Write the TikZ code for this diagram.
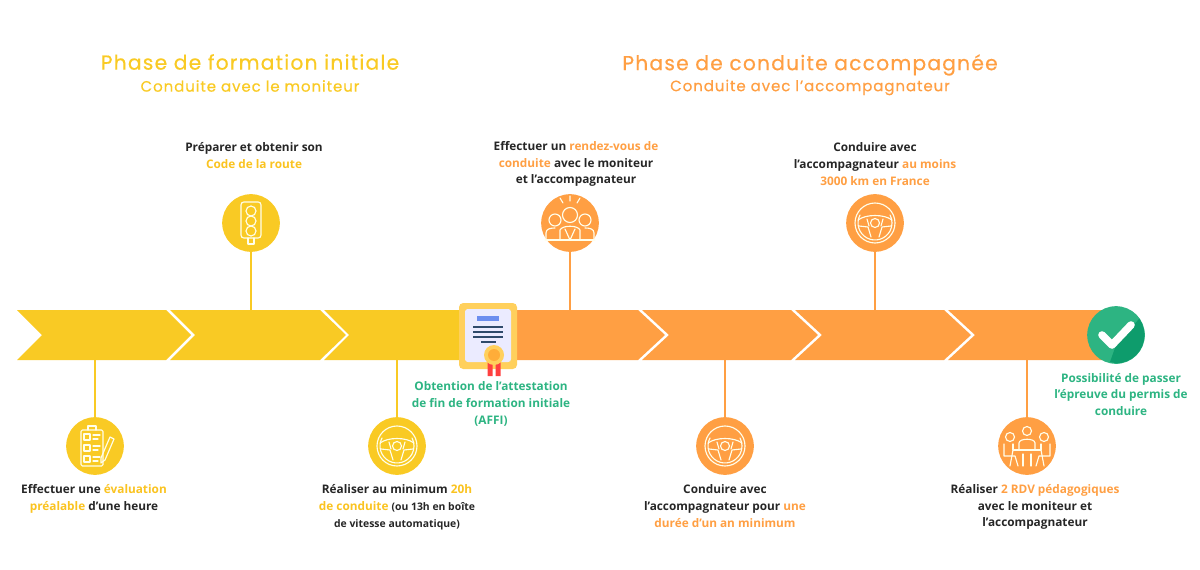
\documentclass[tikz,border=0pt]{standalone}
\usepackage{fontspec}
\setmainfont{Open Sans}
\newfontfamily\headfont[LetterSpace=6,FakeBold=0.5]{Poppins}
\usetikzlibrary{positioning,calc}

\definecolor{phaseyellow}{HTML}{F9CA24}
\definecolor{phaseorange}{HTML}{FF9F43}
\definecolor{okgreen}{HTML}{2DB482}
\definecolor{okdark}{HTML}{0E9C6C}
\definecolor{txtdark}{HTML}{262626}
\definecolor{certframe}{HTML}{FFD05C}
\definecolor{certline}{HTML}{2F4A6B}
\definecolor{certbar}{HTML}{6C8EEF}
\newcommand{\yel}[1]{\textcolor{phaseyellow!90!orange}{#1}}
\newcommand{\ora}[1]{\textcolor{phaseorange}{#1}}

\tikzset{
  icon/.style={draw=white!92!yellow, line width=0.8pt, line join=round, line cap=round},
  wheelicon/.pic={
    \draw[icon] (0,0) circle (20);
    \draw[icon] (-15,-8) arc (208:-28:17);
    \draw[icon] (0,0) circle (4.5);
    \draw[icon] (-17,-3) .. controls (-9,-9) and (9,-9) .. (17,-3);
    \draw[icon] (-16,3) -- (-7,4) -- (-4,14);
    \draw[icon] (16,3) -- (7,4) -- (4,14);
    \draw[icon] (-8,-4) -- (-6,3) (8,-4) -- (6,3);
  },
  lighticon/.pic={
    \draw[icon, rounded corners=2] (-10,-21) rectangle (10,15);
    \foreach \ly in {-12,-2,8} {
      \draw[icon] (0,\ly) circle (5);
    }
    \draw[icon] (-3,15) -- (-3,21) -- (3,21) -- (3,15);
  },
  listicon/.pic={
    \draw[icon, rounded corners=1] (-14,-16) rectangle (8,20);
    \draw[icon] (-7,-16) -- (-7,-20) -- (1,-20) -- (1,-16);
    \foreach \ly in {-9,2,13} {
      \draw[icon] (-11,\ly-3) rectangle (-5,\ly+3);
      \draw[icon] (-2,\ly-2) -- (5,\ly-2) (-2,\ly+2) -- (3,\ly+2);
    }
    \draw[icon] (6,12) -- (15,-9) -- (19,-7) -- (10,14) -- (6,17) -- cycle;
  },
  crowdicon/.pic={
    \draw[icon] (0,-27) -- (0,-22) (-10,-25) -- (-7,-20) (10,-25) -- (7,-20);
    \draw[icon] (0,-8) circle (7.5);
    \draw[icon] (-15,-3) circle (6) (15,-3) circle (6);
    \draw[icon] (-24,17) -- (-24,10) .. controls (-24,6) and (-20,5) .. (-15,5)
      (24,17) -- (24,10) .. controls (24,6) and (20,5) .. (15,5);
    \draw[icon] (-10,17) -- (-10,7) .. controls (-8,2) and (8,2) .. (10,7) -- (10,17);
    \draw[icon] (-25,17) -- (25,17);
    \draw[icon] (0,17) -- (-5,6) (0,17) -- (5,6);
  },
  tableicon/.pic={
    \draw[icon] (0,-15) circle (4.5) (-17,-9) circle (4.5) (17,-9) circle (4.5);
    \draw[icon] (-8,4) -- (-8,-3) .. controls (-8,-8) and (8,-8) .. (8,-3) -- (8,4);
    \draw[icon] (-23,-2) -- (-23,10) -- (-12,10) -- (-9,20);
    \draw[icon] (23,-2) -- (23,10) -- (12,10) -- (9,20);
    \draw[icon] (-14,-2) -- (-14,4) -- (14,4) -- (14,-2);
    \draw[icon] (-14,4) -- (-17,20) (14,4) -- (17,20);
    \draw[icon] (-4,8) -- (-4,20) (4,8) -- (4,20);
  },
  stepdot/.style={circle, minimum size=41pt, inner sep=0pt},
  yeldot/.style={stepdot, fill=phaseyellow},
  oradot/.style={stepdot, fill=phaseorange},
  yelstem/.style={draw=phaseyellow, line width=1.4pt},
  orastem/.style={draw=phaseorange, line width=1.4pt},
  caption/.style={align=center, font=\bfseries\fontsize{8.4}{12}\selectfont, text=txtdark, inner sep=0pt},
  greencaption/.style={caption, text=okgreen},
  headline/.style={font=\headfont\fontsize{14.4}{16}\selectfont, inner sep=0pt},
  subline/.style={font=\headfont\fontsize{10.7}{12}\selectfont, inner sep=0pt},
}

\begin{document}
\begin{tikzpicture}[x=0.025cm, y=-0.025cm]
  \useasboundingbox (0,0) rectangle (1200,570);

  \coordinate (bandN) at (0,310);
  \coordinate (bandS) at (0,360);

  % titles
  \node[headline, text=phaseyellow] (phaseA) at (250,62) {Phase de formation initiale};
  \node[subline, text=phaseyellow] (subA) at (250,86) {Conduite avec le moniteur};
  \node[headline, text=phaseorange] (phaseB) at (810,65) {Phase de conduite accompagnée};
  \node[subline, text=phaseorange] (subB) at (810,87.5) {Conduite avec l’accompagnateur};

  % band
  \fill[phaseyellow] (17,310) -- (166,310) -- (191,335) -- (166,360) -- (17,360) -- (42,335) -- cycle;
  \fill[phaseyellow] (170,310) -- (320,310) -- (346,335) -- (320,360) -- (170,360) -- (195,335) -- cycle;
  \fill[phaseyellow] (324,310) -- (490,310) -- (490,360) -- (324,360) -- (349,335) -- cycle;
  \fill[phaseorange] (490,310) -- (638,310) -- (665,335) -- (638,360) -- (490,360) -- cycle;
  \fill[phaseorange] (642,310) -- (791,310) -- (818,335) -- (791,360) -- (642,360) -- (669,335) -- cycle;
  \fill[phaseorange] (795,310) -- (944,310) -- (971,335) -- (944,360) -- (795,360) -- (822,335) -- cycle;
  \fill[phaseorange] (948,310) -- (1110,310) -- (1110,360) -- (948,360) -- (975,335) -- cycle;

  % steps
  \node[yeldot] (evalDot) at (95,446) {};
  \node[yeldot] (codeDot) at (251,223) {};
  \node[yeldot] (hoursDot) at (397,446) {};
  \node[oradot] (rdvDot) at (570,223) {};
  \node[oradot] (yearDot) at (725,446) {};
  \node[oradot] (kmDot) at (875,223) {};
  \node[oradot] (teamDot) at (1027,446) {};

  \draw[yelstem] (evalDot) -- (evalDot |- bandS);
  \draw[yelstem] (codeDot) -- (codeDot |- bandN);
  \draw[yelstem] (hoursDot) -- (hoursDot |- bandS);
  \draw[orastem] (rdvDot) -- (rdvDot |- bandN);
  \draw[orastem] (yearDot) -- (yearDot |- bandS);
  \draw[orastem] (kmDot) -- (kmDot |- bandN);
  \draw[orastem] (teamDot) -- (teamDot |- bandS);

  \pic at (evalDot) {listicon};
  \pic at (codeDot) {lighticon};
  \pic at (hoursDot) {wheelicon};
  \pic at (rdvDot) {crowdicon};
  \pic at (yearDot) {wheelicon};
  \pic at (kmDot) {wheelicon};
  \pic at (teamDot) {tableicon};

  % certificate
  \fill[certframe, rounded corners=3] (459,303) rectangle (517,369);
  \fill[white!92!blue, rounded corners=2] (465,309) rectangle (511,362);
  \fill[certbar] (477,316) rectangle (499,321);
  \foreach \ly in {326,331,336} \fill[certline] (473,\ly) rectangle (503,\ly+2);
  \fill[certline] (481,341) rectangle (496,343);
  \fill[red!75!white] (487.5,360) rectangle (492.5,376) (495.5,360) rectangle (500.5,376);
  \fill[certframe] (494,355) circle (10);
  \fill[phaseorange!85!yellow] (494,355) circle (6);

  % final check
  \node[circle, fill=okgreen, minimum size=41pt, inner sep=0pt] (okDot) at (1116,335) {};
  \begin{scope}
    \clip (1116,335) circle (28.4);
    \fill[okdark] (1146,311) -- (1116,345) -- (1110,362) -- (1150,370) -- cycle;
  \end{scope}
  \draw[white, line width=5.4pt, line join=round, line cap=round] (1102,335) -- (1112,345) -- (1131,325);

  % texts
  \node[caption] (evalTxt) at (94,499) {Effectuer une \yel{évaluation}\\\yel{préalable} d’une heure};
  \node[caption] (codeTxt) at (254,155.5) {Préparer et obtenir son\\\yel{Code de la route}};
  \node[caption] (hoursTxt) at (397,507) {Réaliser au minimum \yel{20h}\\\yel{de conduite} {\fontsize{7.4}{12}\selectfont (ou 13h en boîte}\\{\fontsize{7.4}{12}\selectfont de vitesse automatique)}};
  \node[greencaption] (affiTxt) at (491,404) {Obtention de l’attestation\\de fin de formation initiale\\(AFFI)};
  \node[caption] (rdvTxt) at (576,164) {Effectuer un \ora{rendez-vous de}\\\ora{conduite} avec le moniteur\\et l’accompagnateur};
  \node[caption] (kmTxt) at (875,164) {Conduire avec\\l’accompagnateur \ora{au moins}\\\ora{3000 km en France}};
  \node[caption] (yearTxt) at (725,506) {Conduire avec\\l’accompagnateur pour \ora{une}\\\ora{durée d’un an minimum}};
  \node[greencaption] (okTxt) at (1121,394.5) {Possibilité de passer\\l’épreuve du permis de\\conduire};
  \node[caption] (teamTxt) at (1035,507) {Réaliser \ora{2 RDV pédagogiques}\\avec le moniteur et\\l’accompagnateur};
\end{tikzpicture}
\end{document}
